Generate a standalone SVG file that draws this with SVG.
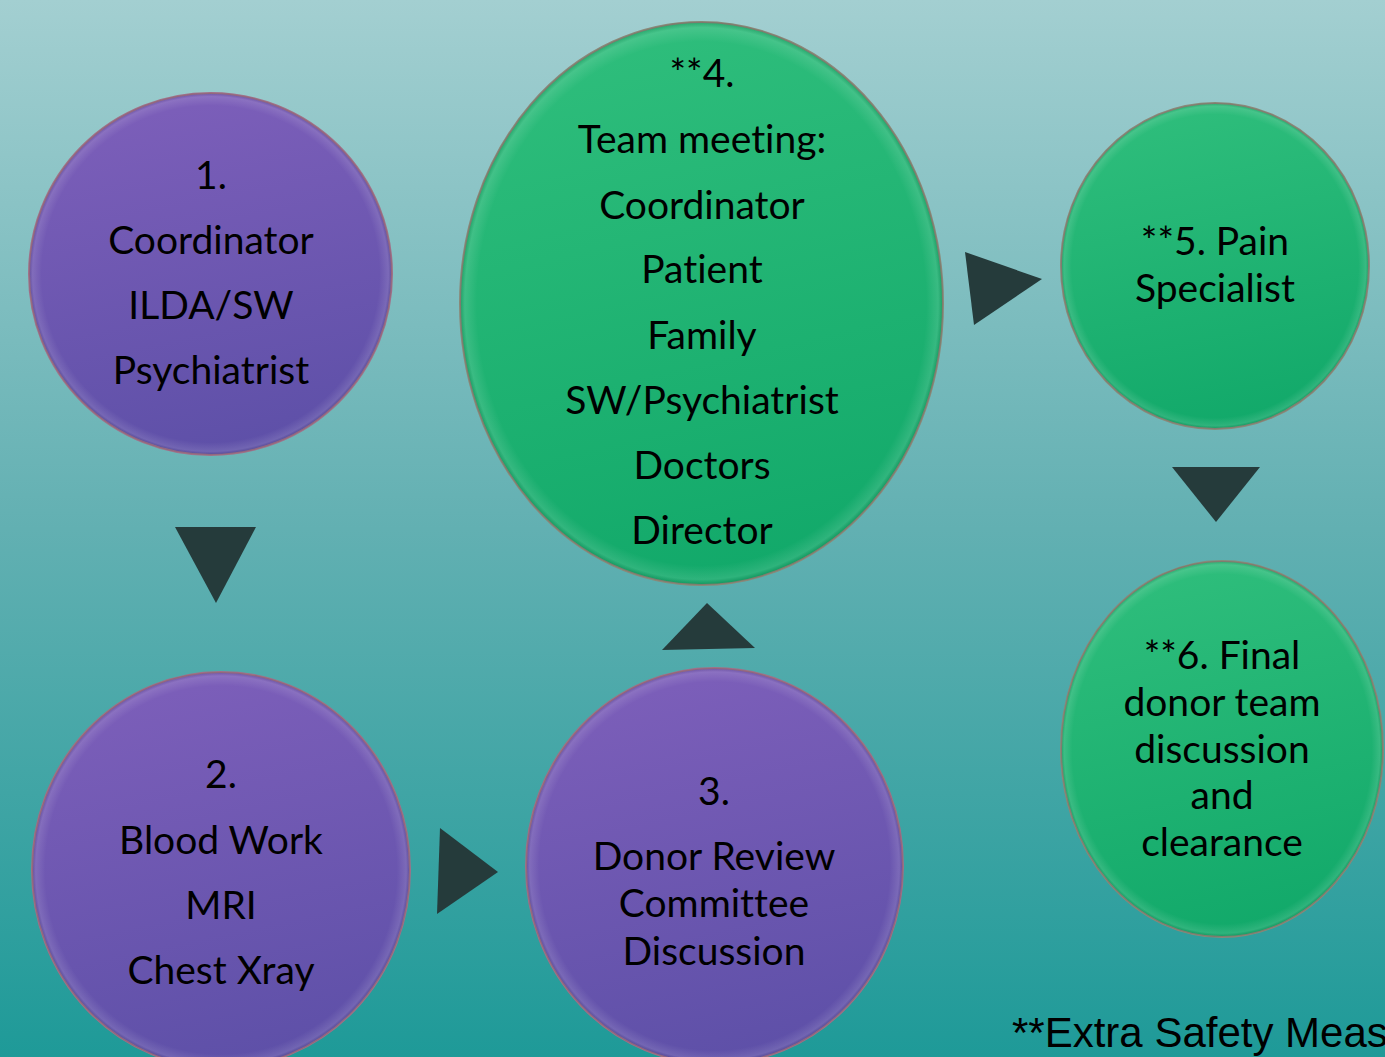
<svg xmlns="http://www.w3.org/2000/svg" width="1385" height="1057" viewBox="0 0 1385 1057">
<defs>
<linearGradient id="bg" x1="0" y1="0" x2="0" y2="1">
<stop offset="0" stop-color="#a3cfd1"/>
<stop offset="0.5" stop-color="#62b0b2"/>
<stop offset="1" stop-color="#1e9a98"/>
</linearGradient>
<linearGradient id="purple" x1="0.3" y1="0" x2="0.5" y2="1">
<stop offset="0" stop-color="#7d5fba"/>
<stop offset="1" stop-color="#5e50a8"/>
</linearGradient>
<linearGradient id="green" x1="0.3" y1="0" x2="0.5" y2="1">
<stop offset="0" stop-color="#2fbe7c"/>
<stop offset="1" stop-color="#12a96a"/>
</linearGradient>
<radialGradient id="bevel" cx="0.5" cy="0.5" r="0.5">
<stop offset="0.93" stop-color="#ffffff" stop-opacity="0"/>
<stop offset="0.98" stop-color="#ffffff" stop-opacity="0.12"/>
<stop offset="1" stop-color="#000000" stop-opacity="0.12"/>
</radialGradient>
</defs>
<style>
.p{fill:url(#purple);stroke:#a07088;stroke-width:2}
.g{fill:url(#green);stroke:#8a8878;stroke-width:2}
.bv{fill:url(#bevel);stroke:none}
.t{font-family:Lato,"Liberation Sans",sans-serif;font-size:39px;fill:#000;text-anchor:middle;font-variant-ligatures:none}
.arr{fill:#253b3b}
.note{font-family:"Liberation Sans",Arial,sans-serif;font-size:42px;fill:#000}
</style>
<rect x="0" y="0" width="1385" height="1057" fill="url(#bg)"/>
<g id="connectors">
<polygon class="arr" points="175,527 256,527 216,603"/>
<polygon class="arr" points="440,828 498,872 437,914"/>
<polygon class="arr" points="662,650 755,648 707,603"/>
<polygon class="arr" points="965,252 1042,279 974,325"/>
<polygon class="arr" points="1172,467 1260,467 1216,522"/>
</g>
<g id="node1">
<ellipse class="p" cx="210.5" cy="274" rx="181.5" ry="181"/>
<ellipse class="bv" cx="210.5" cy="274" rx="181.5" ry="181"/>
<text class="t" x="211" y="189">1.</text>
<text class="t" x="211" y="254">Coordinator</text>
<text class="t" x="211" y="319">ILDA/SW</text>
<text class="t" x="211" y="384">Psychiatrist</text>
</g>
<g id="node2">
<ellipse class="p" cx="221" cy="870" rx="189" ry="198"/>
<ellipse class="bv" cx="221" cy="870" rx="189" ry="198"/>
<text class="t" x="221" y="788">2.</text>
<text class="t" x="221" y="854">Blood Work</text>
<text class="t" x="221" y="919">MRI</text>
<text class="t" x="221" y="984">Chest Xray</text>
</g>
<g id="node3">
<ellipse class="p" cx="714.5" cy="866" rx="188.5" ry="198"/>
<ellipse class="bv" cx="714.5" cy="866" rx="188.5" ry="198"/>
<text class="t" x="714" y="805">3.</text>
<text class="t" x="714" y="870">Donor Review</text>
<text class="t" x="714" y="917">Committee</text>
<text class="t" x="714" y="965">Discussion</text>
</g>
<g id="node4">
<ellipse class="g" cx="701.5" cy="303.5" rx="241.5" ry="281.5"/>
<ellipse class="bv" cx="701.5" cy="303.5" rx="241.5" ry="281.5"/>
<text class="t" x="702" y="87">**4.</text>
<text class="t" x="702" y="153">Team meeting:</text>
<text class="t" x="702" y="219">Coordinator</text>
<text class="t" x="702" y="283">Patient</text>
<text class="t" x="702" y="349">Family</text>
<text class="t" x="702" y="414">SW/Psychiatrist</text>
<text class="t" x="702" y="479">Doctors</text>
<text class="t" x="702" y="544">Director</text>
</g>
<g id="node5">
<ellipse class="g" cx="1215" cy="266" rx="154" ry="163"/>
<ellipse class="bv" cx="1215" cy="266" rx="154" ry="163"/>
<text class="t" x="1215" y="255">**5. Pain</text>
<text class="t" x="1215" y="302">Specialist</text>
</g>
<g id="node6">
<ellipse class="g" cx="1222" cy="749" rx="161" ry="188"/>
<ellipse class="bv" cx="1222" cy="749" rx="161" ry="188"/>
<text class="t" x="1222" y="669">**6. Final</text>
<text class="t" x="1222" y="716">donor team</text>
<text class="t" x="1222" y="763">discussion</text>
<text class="t" x="1222" y="809">and</text>
<text class="t" x="1222" y="856">clearance</text>
</g>
<text class="note" x="1012" y="1047">**Extra Safety Meas</text>
</svg>
